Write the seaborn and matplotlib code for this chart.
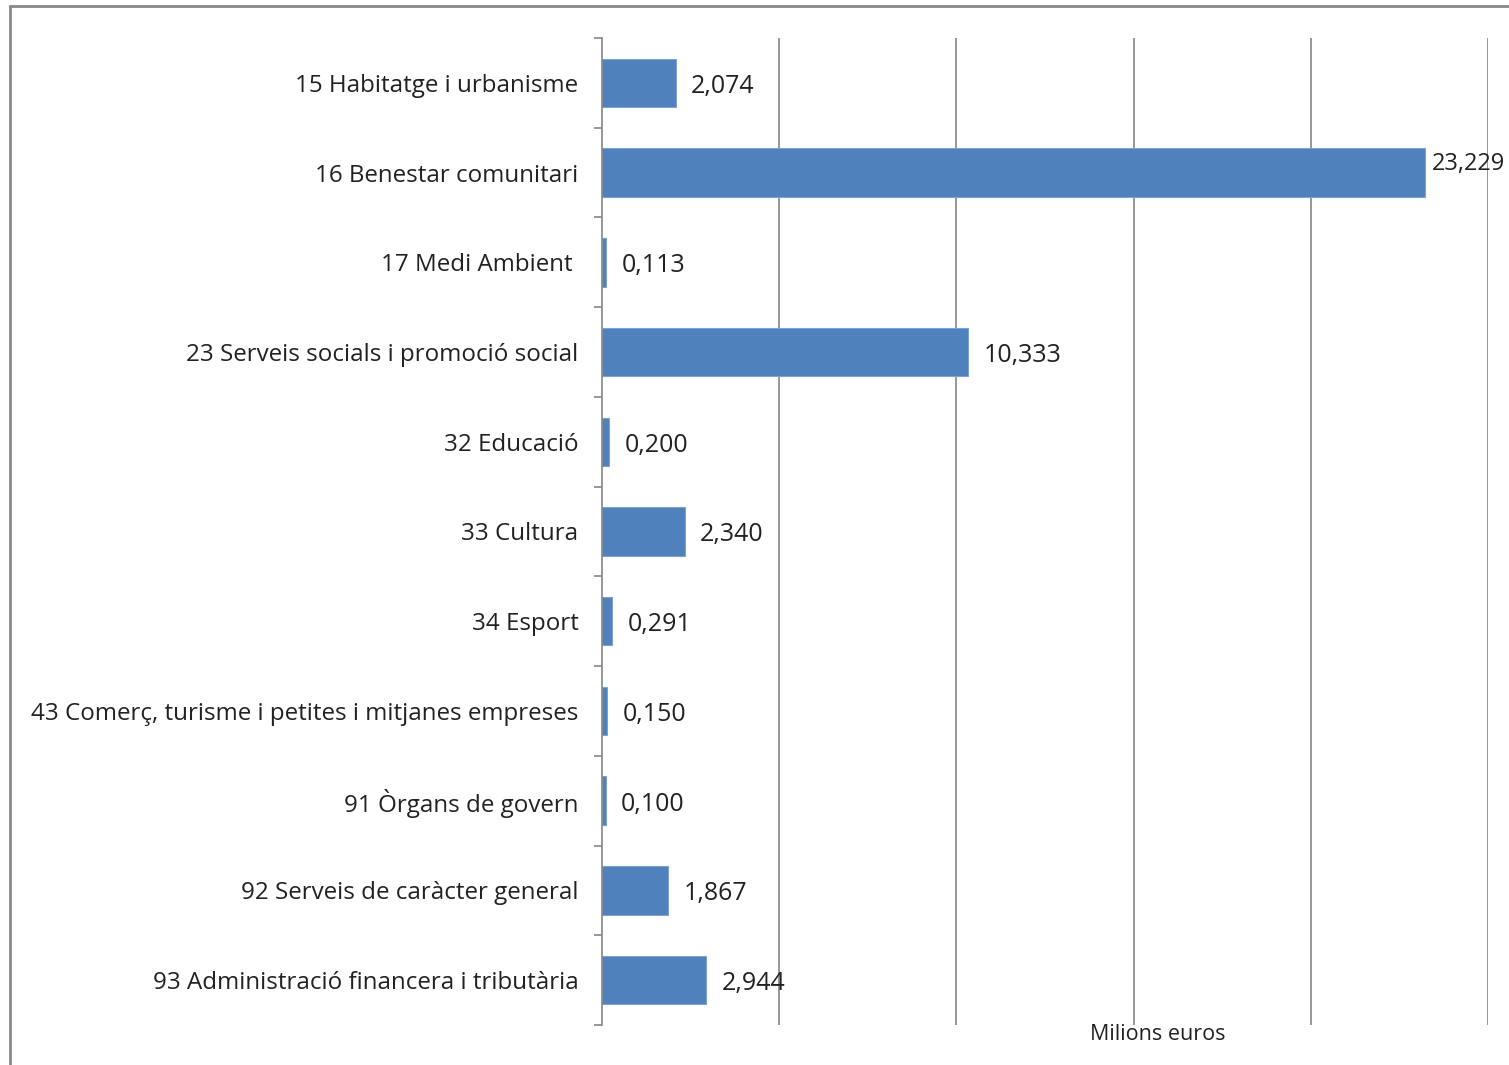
import matplotlib
matplotlib.use("Agg")
import matplotlib.pyplot as plt
import seaborn as sns
import pandas as pd
from matplotlib.lines import Line2D

categories = [
    "15 Habitatge i urbanisme",
    "16 Benestar comunitari",
    "17 Medi Ambient ",
    "23 Serveis socials i promoció social",
    "32 Educació",
    "33 Cultura",
    "34 Esport",
    "43 Comerç, turisme i petites i mitjanes empreses",
    "91 Òrgans de govern",
    "92 Serveis de caràcter general",
    "93 Administració financera i tributària",
]
valors = [2.074, 23.229, 0.113, 10.333, 0.200, 2.340, 0.291, 0.150, 0.100, 1.867, 2.944]
etiquetes = ["2,074", "23,229", "0,113", "10,333", "0,200", "2,340", "0,291", "0,150", "0,100", "1,867", "2,944"]

df = pd.DataFrame({"categoria": categories, "valor": valors})

sns.set_style("white")
plt.rcParams["font.family"] = ["Open Sans", "DejaVu Sans"]

fig = plt.figure(figsize=(15.09, 10.65), dpi=100)
ax = fig.add_axes([602 / 1509, 1 - 1025 / 1065, (1488 - 602) / 1509, (1025 - 38) / 1065])

sns.barplot(data=df, y="categoria", x="valor", color="#4F81BD", width=0.54,
            edgecolor="#7FA3D1", linewidth=0.8, saturation=1, ax=ax)

ax.set_xlim(0, 25)
ax.set_ylim(len(categories) - 0.5, -0.5)
ax.set_xticks([5, 10, 15, 20, 25])
ax.set_xticklabels([])
ax.tick_params(axis="x", length=0)
ax.grid(axis="x", color="#868686", linewidth=1.2)
ax.set_axisbelow(True)

# ticks between categories on the y axis
ax.set_yticks([i - 0.5 for i in range(len(categories) + 1)], minor=True)
ax.set_yticks(range(len(categories)))
ax.set_yticklabels(categories, fontsize=17.4, color="#222222")
ax.tick_params(axis="y", which="major", left=False, length=0, pad=17)
ax.tick_params(axis="y", which="minor", left=True, length=6, color="#868686", width=1.2)

for s in ["top", "right", "bottom"]:
    ax.spines[s].set_visible(False)
ax.spines["left"].set_color("#868686")
ax.spines["left"].set_linewidth(1.2)

ax.set_xlabel("")
ax.set_ylabel("")

for i, (v, t) in enumerate(zip(valors, etiquetes)):
    # the longest bar's label sits a bit higher and closer, as in the original
    offset = (5, 6) if v == max(valors) else (11, -2.5)
    ax.annotate(t, xy=(v, i), xytext=offset, textcoords="offset points",
                ha="left", va="center", fontsize=18 if v != max(valors) else 17,
                color="#222222", annotation_clip=False)

fig.text(1158 / 1509, 1 - 1034 / 1065, "Milions euros", ha="center", va="center",
         fontsize=15.5, color="#222222")

# frame of the chart area
fig.add_artist(Line2D([10 / 1509, 10 / 1509], [0, 1 - 6 / 1065], color="#888888", linewidth=2))
fig.add_artist(Line2D([10 / 1509, 1], [1 - 6 / 1065, 1 - 6 / 1065], color="#888888", linewidth=2))

fig.savefig("out.png", dpi=100)
plt.close(fig)
